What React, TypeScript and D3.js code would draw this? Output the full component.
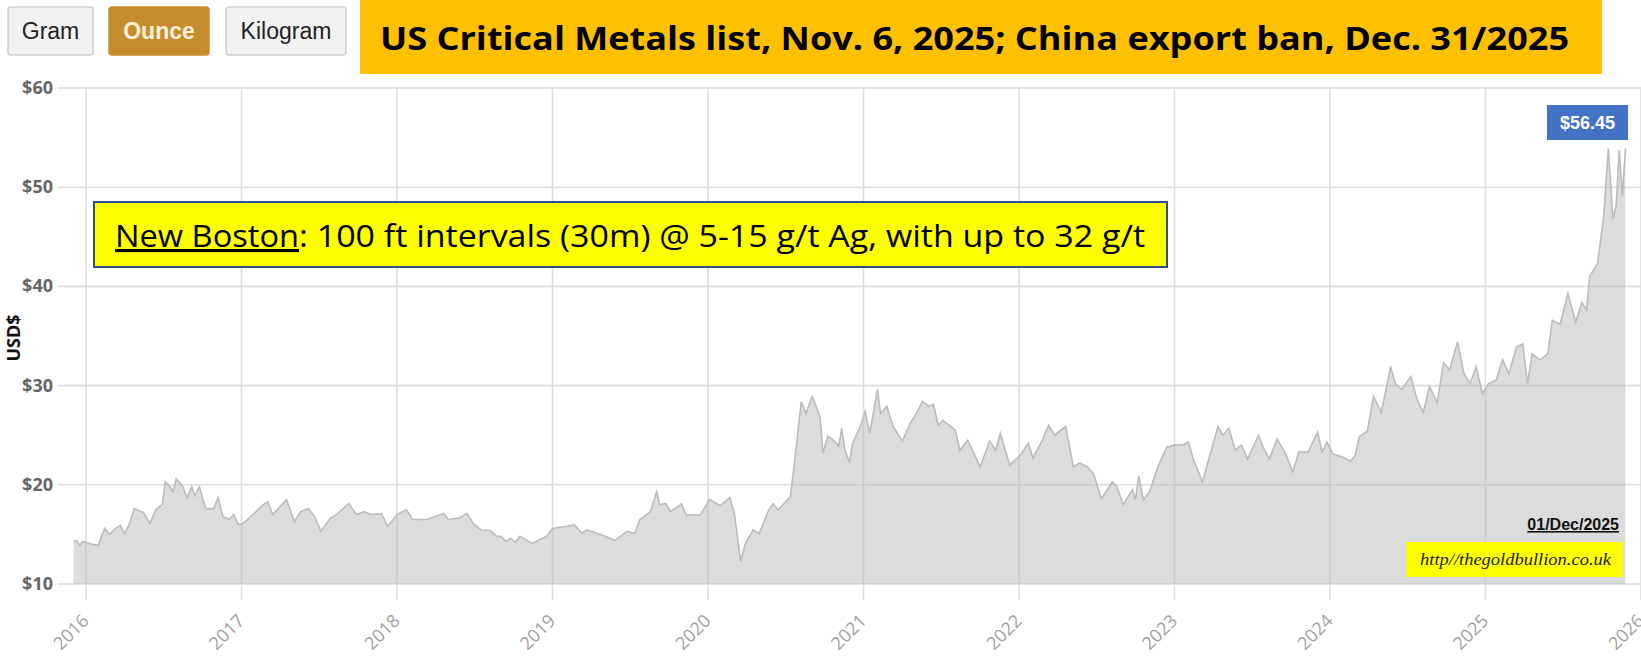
import React from "react";
import * as d3 from "d3";

const units = ["Gram", "Ounce", "Kilogram"];
const activeUnit = "Ounce";
const title = "US Critical Metals list, Nov. 6, 2025; China export ban, Dec. 31/2025";
const noteLead = "New Boston";
const noteRest = ": 100 ft intervals (30m) @ 5-15 g/t Ag, with up to 32 g/t";
const yTicks = [10, 20, 30, 40, 50, 60];
const xTicks = [2016, 2017, 2018, 2019, 2020, 2021, 2022, 2023, 2024, 2025, 2026];
const priceLabel = "$56.45";
const dateLabel = "01/Dec/2025";
const sourceLabel = "http//thegoldbullion.co.uk";
const yAxisTitle = "USD$";

const times = [
  2015.92, 2015.94, 2015.96, 2015.98, 2016.04, 2016.08, 2016.1, 2016.12, 2016.15, 2016.19,
  2016.22, 2016.25, 2016.28, 2016.31, 2016.34, 2016.37, 2016.41, 2016.45, 2016.49, 2016.51,
  2016.54, 2016.56, 2016.58, 2016.62, 2016.65, 2016.68, 2016.7, 2016.73, 2016.77, 2016.82,
  2016.85, 2016.88, 2016.92, 2016.95, 2016.98, 2017.01, 2017.08, 2017.14, 2017.17, 2017.2,
  2017.26, 2017.29, 2017.34, 2017.38, 2017.43, 2017.47, 2017.51, 2017.57, 2017.61, 2017.69,
  2017.74, 2017.79, 2017.83, 2017.9, 2017.94, 2018.0, 2018.06, 2018.1, 2018.19, 2018.3,
  2018.33, 2018.4, 2018.45, 2018.49, 2018.54, 2018.6, 2018.64, 2018.67, 2018.7, 2018.73,
  2018.76, 2018.79, 2018.87, 2018.96, 2019.0, 2019.08, 2019.14, 2019.19, 2019.22, 2019.31,
  2019.4, 2019.48, 2019.53, 2019.56, 2019.63, 2019.67, 2019.69, 2019.73, 2019.76, 2019.83,
  2019.86, 2019.95, 2020.01, 2020.08, 2020.14, 2020.17, 2020.21, 2020.24, 2020.29, 2020.33,
  2020.39, 2020.42, 2020.45, 2020.53, 2020.56, 2020.6, 2020.63, 2020.67, 2020.72, 2020.74,
  2020.77, 2020.8, 2020.84, 2020.86, 2020.88, 2020.91, 2020.93, 2020.98, 2021.01, 2021.04,
  2021.09, 2021.11, 2021.15, 2021.19, 2021.25, 2021.3, 2021.34, 2021.38, 2021.42, 2021.45,
  2021.48, 2021.51, 2021.56, 2021.59, 2021.62, 2021.67, 2021.75, 2021.81, 2021.85, 2021.88,
  2021.94, 2022.01, 2022.06, 2022.09, 2022.15, 2022.19, 2022.23, 2022.3, 2022.35, 2022.39,
  2022.44, 2022.48, 2022.53, 2022.6, 2022.63, 2022.67, 2022.73, 2022.75, 2022.77, 2022.8,
  2022.84, 2022.89, 2022.95, 2023.0, 2023.05, 2023.09, 2023.12, 2023.18, 2023.23, 2023.28,
  2023.31, 2023.35, 2023.39, 2023.43, 2023.47, 2023.54, 2023.57, 2023.61, 2023.66, 2023.71,
  2023.76, 2023.8, 2023.86, 2023.92, 2023.95, 2023.98, 2024.02, 2024.08, 2024.13, 2024.16,
  2024.19, 2024.24, 2024.28, 2024.33, 2024.39, 2024.42, 2024.46, 2024.52, 2024.56, 2024.6,
  2024.64, 2024.69, 2024.73, 2024.77, 2024.82, 2024.86, 2024.9, 2024.94, 2024.98, 2025.02,
  2025.07, 2025.11, 2025.15, 2025.2, 2025.24, 2025.27, 2025.3, 2025.35, 2025.4, 2025.43,
  2025.48, 2025.53, 2025.58, 2025.62, 2025.65, 2025.67, 2025.72, 2025.76, 2025.79, 2025.82,
  2025.84, 2025.86, 2025.88, 2025.9,
];

const prices = [
  14.3, 14.4, 13.9, 14.3, 14.0, 13.9, 14.8, 15.6, 15.0, 15.6,
  15.9, 15.1, 16.1, 17.6, 17.4, 17.2, 16.1, 17.5, 18.0, 20.3,
  19.8, 19.3, 20.6, 19.9, 18.7, 19.8, 18.9, 19.8, 17.6, 17.6,
  18.7, 16.8, 16.5, 17.0, 16.0, 16.1, 17.1, 18.0, 18.3, 17.0,
  18.0, 18.5, 16.3, 17.3, 17.6, 16.8, 15.3, 16.6, 17.0, 18.1,
  17.0, 17.3, 17.0, 17.1, 15.8, 17.0, 17.5, 16.5, 16.5, 17.1,
  16.5, 16.65, 17.1, 16.1, 15.45, 15.4, 14.8, 14.8, 14.3, 14.6,
  14.2, 14.8, 14.1, 14.8, 15.6, 15.8, 15.95, 15.1, 15.45, 15.0,
  14.4, 15.3, 15.1, 16.45, 17.3, 19.3, 18.0, 18.1, 17.3, 18.1,
  16.95, 16.95, 18.5, 17.9, 18.7, 17.1, 12.25, 14.1, 15.45, 15.1,
  17.45, 18.1, 17.45, 18.8, 22.8, 28.4, 27.2, 28.9, 26.9, 23.2,
  24.9, 24.6, 23.9, 25.7, 23.5, 22.3, 24.2, 25.9, 27.4, 25.2,
  29.6, 27.2, 27.9, 25.9, 24.4, 26.2, 27.2, 28.4, 27.9, 28.1,
  26.0, 26.5, 25.9, 25.5, 23.5, 24.5, 21.8, 24.4, 23.5, 25.2,
  22.0, 23.0, 24.2, 22.7, 24.5, 26.0, 25.0, 25.9, 21.8, 22.2,
  21.8, 21.1, 18.6, 20.3, 19.8, 18.0, 19.5, 18.5, 20.9, 18.5,
  19.3, 21.7, 23.8, 24.0, 24.0, 24.3, 22.6, 20.3, 23.1, 25.9,
  25.0, 25.7, 23.5, 24.0, 22.6, 25.0, 23.8, 22.6, 24.6, 23.3,
  21.3, 23.3, 23.3, 25.3, 23.3, 24.3, 23.1, 22.8, 22.4, 22.9,
  24.9, 25.4, 28.9, 27.3, 31.9, 30.2, 29.6, 30.9, 28.6, 27.3,
  29.9, 28.3, 32.3, 31.6, 34.4, 31.3, 30.2, 31.9, 29.2, 30.2,
  30.6, 32.6, 31.2, 33.9, 34.2, 30.2, 33.2, 32.6, 33.2, 36.6,
  36.2, 39.3, 36.4, 38.4, 37.6, 41.0, 42.3, 47.0, 53.9, 46.8,
  48.1, 53.7, 49.1, 53.9,
];

const W = 1641;
const H = 660;

export default function App() {
  const x = d3.scaleLinear().domain([2016, 2026]).range([86, 1641]);
  const y = d3.scaleLinear().domain([10, 60]).range([584, 88]);
  const data = times.map((t, i) => ({ t, v: prices[i] }));

  const area = d3
    .area<{ t: number; v: number }>()
    .x((d) => x(d.t))
    .y0(y(10))
    .y1((d) => y(d.v));
  const line = d3
    .line<{ t: number; v: number }>()
    .x((d) => x(d.t))
    .y((d) => y(d.v));

  const btnLayout: Record<string, { x: number; w: number }> = {
    Gram: { x: 8, w: 85 },
    Ounce: { x: 109, w: 100 },
    Kilogram: { x: 226, w: 120 },
  };

  return (
    <svg
      width={W}
      height={H}
      style={{ position: "absolute", left: 0, top: 0, background: "#fff" }}
    >
      {yTicks.map((v) => (
        <line
          key={"hy" + v}
          x1={58}
          x2={W}
          y1={y(v)}
          y2={y(v)}
          stroke="#dddddd"
          strokeWidth={1.6}
        />
      ))}
      {xTicks.map((t) => (
        <line
          key={"vx" + t}
          x1={x(t)}
          x2={x(t)}
          y1={y(60)}
          y2={y(10) + 16}
          stroke="#dddddd"
          strokeWidth={1.6}
        />
      ))}
      <path d={area(data) || ""} fill="#b9b9b9" fillOpacity={0.5} />
      <path d={line(data) || ""} fill="none" stroke="#bcbcbc" strokeWidth={1.6} />

      {yTicks.map((v) => (
        <text
          key={"yl" + v}
          x={53}
          y={y(v) + 6}
          textAnchor="end"
          fontFamily="'Open Sans', sans-serif"
          fontWeight="bold"
          fontSize={18}
          fill="#666666"
        >
          {"$" + v}
        </text>
      ))}
      <text
        transform={`translate(20, 338) rotate(-90)`}
        textAnchor="middle"
        fontFamily="'Open Sans', sans-serif"
        fontWeight="bold"
        fontSize={18}
        fill="#111"
      >
        {yAxisTitle}
      </text>

      {xTicks.map((t) => (
        <text
          key={"xl" + t}
          transform={`translate(${x(t) + 4}, 622) rotate(-45)`}
          textAnchor="end"
          fontFamily="'Open Sans', sans-serif"
          fontSize={18}
          fill="#a0a0a0"
        >
          {t}
        </text>
      ))}

      {units.map((u) => {
        const b = btnLayout[u];
        const active = u === activeUnit;
        return (
          <g key={u}>
            <rect
              x={b.x}
              y={7}
              width={b.w}
              height={48}
              rx={3}
              fill={active ? "#c68d2e" : "#f1f1f1"}
              stroke={active ? "#c68d2e" : "#cfcfcf"}
              strokeWidth={1.5}
            />
            <text
              x={b.x + b.w / 2}
              y={39}
              textAnchor="middle"
              fontFamily="'Liberation Sans', Arial, sans-serif"
              fontWeight={active ? "bold" : "normal"}
              fontSize={23}
              fill={active ? "#fbf1d8" : "#222"}
            >
              {u}
            </text>
          </g>
        );
      })}

      <rect x={360} y={0} width={1242} height={74} fill="#ffc000" />
      <text
        x={380}
        y={50}
        fontFamily="'Open Sans', sans-serif"
        fontWeight="bold"
        fontSize={32}
        fill="#000"
        textLength={1189}
        lengthAdjust="spacingAndGlyphs"
      >
        {title}
      </text>

      <rect x={94} y={202} width={1073} height={65} fill="#ffff00" stroke="#2e4d8a" strokeWidth={2} />
      <text
        x={115}
        y={247}
        fontFamily="'Open Sans', sans-serif"
        fontSize={31}
        fill="#000"
        textLength={184}
        lengthAdjust="spacingAndGlyphs"
        style={{ textDecoration: "underline" }}
      >
        {noteLead}
      </text>
      <text
        x={299}
        y={247}
        fontFamily="'Open Sans', sans-serif"
        fontSize={31}
        fill="#000"
        textLength={846}
        lengthAdjust="spacingAndGlyphs"
      >
        {noteRest}
      </text>

      <rect x={1547} y={105} width={81} height={35} fill="#4472c4" />
      <text
        x={1587.5}
        y={129}
        textAnchor="middle"
        fontFamily="'Liberation Sans', Arial, sans-serif"
        fontWeight="bold"
        fontSize={18}
        fill="#fff"
      >
        {priceLabel}
      </text>

      <text
        x={1619}
        y={530}
        textAnchor="end"
        fontFamily="'Liberation Sans', Arial, sans-serif"
        fontWeight="bold"
        fontSize={16}
        fill="#111"
        style={{ textDecoration: "underline" }}
      >
        {dateLabel}
      </text>

      <rect x={1406} y={542} width={217} height={35} fill="#ffff00" />
      <text
        x={1420}
        y={565}
        fontFamily="'Liberation Serif', 'Times New Roman', serif"
        fontStyle="italic"
        fontSize={17}
        fill="#222"
        textLength={191}
        lengthAdjust="spacingAndGlyphs"
      >
        {sourceLabel}
      </text>
    </svg>
  );
}
